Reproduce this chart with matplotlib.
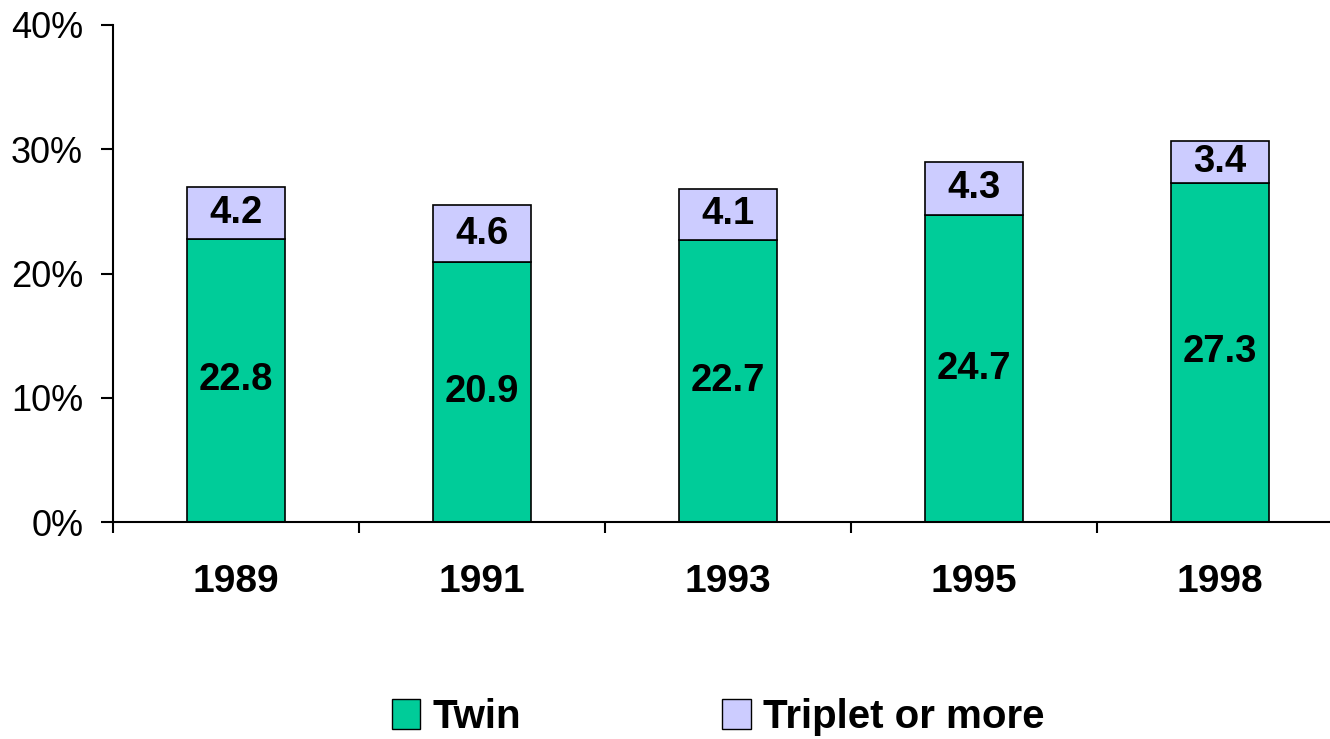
import numpy as np
import matplotlib
matplotlib.use("Agg")
import matplotlib.pyplot as plt
from matplotlib.patches import Patch

matplotlib.rc('font', family=['Liberation Sans', 'DejaVu Sans'])

years = ["1989", "1991", "1993", "1995", "1998"]
twin = [22.8, 20.9, 22.7, 24.7, 27.3]
triplet = [4.2, 4.6, 4.1, 4.3, 3.4]

green = "#00CC99"
lav = "#CCCCFF"

fig = plt.figure(figsize=(13.3, 7.39), dpi=100)
ax = fig.add_axes([113/1330, 1-522/739, 1230/1330, 497/739])

x = np.arange(len(years))
w = 0.4
ax.bar(x, twin, w, color=green, edgecolor="black", linewidth=1.2)
ax.bar(x, triplet, w, bottom=twin, color=lav, edgecolor="black", linewidth=1.2)

for i in range(len(years)):
    ax.text(x[i], twin[i] / 2, "%.1f" % twin[i], ha="center", va="center",
            fontsize=27.5, fontweight="bold")
    ax.text(x[i], twin[i] + triplet[i] / 2, "%.1f" % triplet[i], ha="center",
            va="center", fontsize=27.5, fontweight="bold")

ax.set_xlim(-0.5, len(years) - 0.5)
ax.set_ylim(0, 40)
ax.set_yticks([0, 10, 20, 30, 40])
ax.set_yticklabels(["0%", "10%", "20%", "30%", "40%"], fontsize=26)
ax.tick_params(axis="y", length=8.5, width=1.5, pad=13)

# category boundary ticks, year labels as minor ticks
ax.set_xticks(np.arange(-0.5, len(years), 1.0))
ax.set_xticklabels([])
ax.tick_params(axis="x", which="major", length=8, width=1.5)
ax.set_xticks(x, minor=True)
ax.set_xticklabels(years, minor=True, fontsize=28, fontweight="bold")
ax.tick_params(axis="x", which="minor", length=0, pad=30)

for s in ["top", "right"]:
    ax.spines[s].set_visible(False)
ax.spines["left"].set_linewidth(1.5)
ax.spines["bottom"].set_linewidth(1.5)

handles = [Patch(facecolor=green, edgecolor="black", label="Twin"),
           Patch(facecolor=lav, edgecolor="black", label="Triplet or more")]
fig.legend(handles=handles, loc="center", bbox_to_anchor=(0.54, 1-717/739),
           ncol=2, frameon=False, prop={"size": 29, "weight": "bold"},
           handlelength=0.7, handleheight=0.75, handletextpad=0.3,
           columnspacing=5.0)

plt.savefig("out.png", dpi=100)
